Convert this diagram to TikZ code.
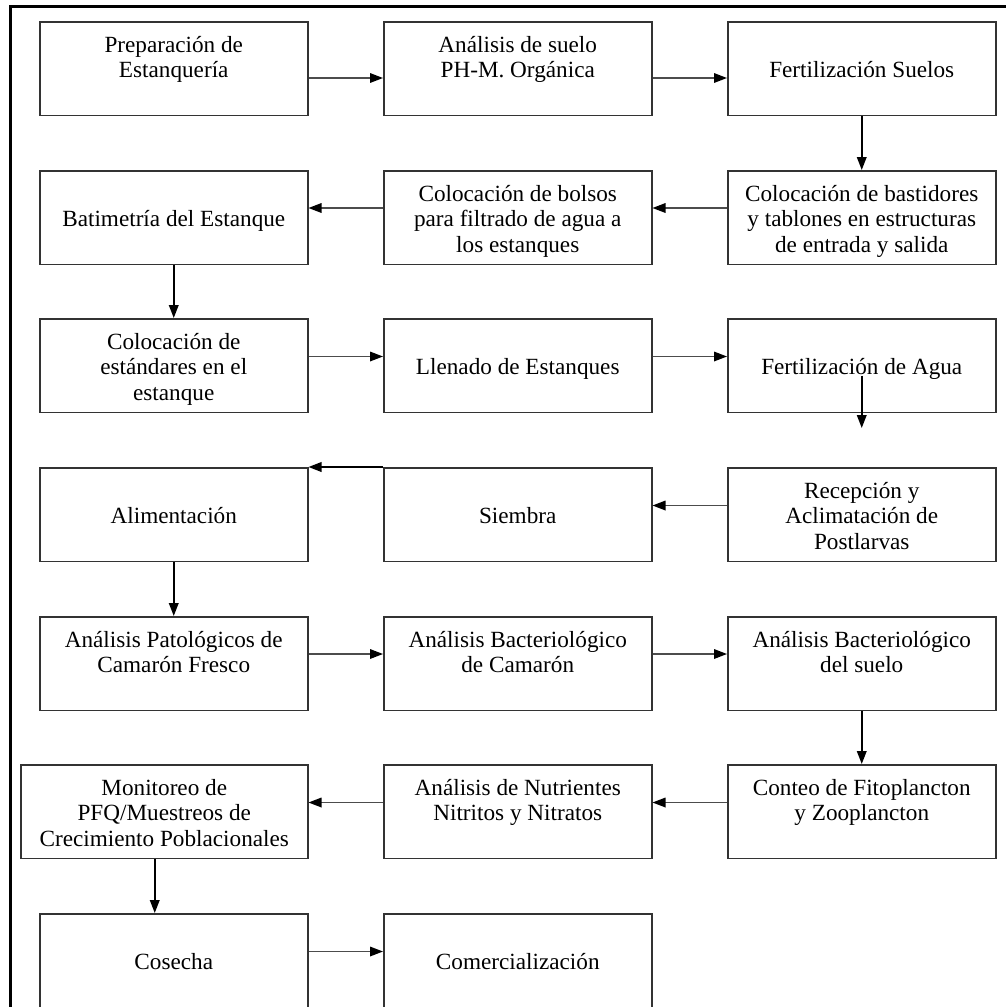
\documentclass[tikz,border=0pt]{standalone}
\usepackage{fontspec}
\setmainfont{Liberation Serif}
\usetikzlibrary{arrows.meta,calc}
\newcommand\boxcontent[3]{\parbox[c][46.75pt][t]{#1}{\centering\rule{0pt}{#2}#3}}
\newcommand\mlines[1]{\boxcontent{134pt}{15.25pt}{#1}}
\newcommand\sline[1]{\boxcontent{134pt}{28.05pt}{#1}}
\begin{document}
\begin{tikzpicture}[x=0.5pt,y=-0.5pt,
  box/.style={draw=black!80,line width=0.75pt,inner sep=0pt,anchor=north west,font=\fontsize{11.6}{12.8}\selectfont},
  arr/.style={draw=black!70,line width=0.7pt,-{Triangle[length=6.5pt,width=4.8pt,color=black]}},
  varr/.style={draw=black,line width=0.85pt,-{Triangle[length=6.5pt,width=4.8pt]}},
  frame/.style={draw=black,line width=1.35pt}]
\clip (0,0) rectangle (1006,1007);
% frame
\draw[frame] (10.3,1012) -- (10.3,6.3) -- (1012,6.3);
% row 1
\node[box] (b1) at (39,21) {\mlines{Preparación de\\Estanquería}};
\node[box] (b2) at (383,21) {\mlines{Análisis de suelo\\PH-M. Orgánica}};
\node[box] (b3) at (727,21) {\sline{Fertilización Suelos}};
% row 2
\node[box] (b4) at (727,170) {\mlines{Colocación de bastidores\\y tablones en estructuras\\de entrada y salida}};
\node[box] (b5) at (383,170) {\mlines{Colocación de bolsos\\para filtrado de agua a\\los estanques}};
\node[box] (b6) at (39,170) {\sline{Batimetría del Estanque}};
% row 3
\node[box] (b7) at (39,318) {\mlines{Colocación de\\estándares en el\\estanque}};
\node[box] (b8) at (383,318) {\sline{Llenado de Estanques}};
\node[box] (b9) at (727,318) {\sline{Fertilización de Agua}};
% row 4
\node[box] (b10) at (727,467) {\mlines{Recepción y\\Aclimatación de\\Postlarvas}};
\node[box] (b11) at (383,467) {\sline{Siembra}};
\node[box] (b12) at (39,467) {\sline{Alimentación}};
% row 5
\node[box] (b13) at (39,616) {\mlines{Análisis Patológicos de\\Camarón Fresco}};
\node[box] (b14) at (383,616) {\mlines{Análisis Bacteriológico\\de Camarón}};
\node[box] (b15) at (727,616) {\mlines{Análisis Bacteriológico\\del suelo}};
% row 6
\node[box] (b16) at (727,764) {\mlines{Conteo de Fitoplancton\\y Zooplancton}};
\node[box] (b17) at (383,764) {\mlines{Análisis de Nutrientes\\Nitritos y Nitratos}};
\node[box] (b18) at (20,764) {\boxcontent{143.5pt}{15.25pt}{Monitoreo de\\PFQ/Muestreos de\\Crecimiento Poblacionales}};
% row 7
\node[box] (b19) at (39,913) {\sline{Cosecha}};
\node[box] (b20) at (383,913) {\sline{Comercialización}};
% connectors
\draw[arr] ([yshift=-4.75pt]b1.east) -- ([yshift=-4.75pt]b2.west);
\draw[arr] ([yshift=-4.75pt]b2.east) -- ([yshift=-4.75pt]b3.west);
\draw[varr] (b3.south) -- (b4.north);
\draw[arr] ([yshift=4.75pt]b4.west) -- ([yshift=4.75pt]b5.east);
\draw[arr] ([yshift=4.75pt]b5.west) -- ([yshift=4.75pt]b6.east);
\draw[varr] (b6.south) -- (b7.north);
\draw[arr] ([yshift=4.5pt]b7.east) -- ([yshift=4.5pt]b8.west);
\draw[arr] ([yshift=4.5pt]b8.east) -- ([yshift=4.5pt]b9.west);
\coordinate (fa) at (860,428);
\draw[varr] ([yshift=-5pt]b9.center) -- (b9.center |- fa);
\draw[arr] ([yshift=4.5pt]b10.west) -- ([yshift=4.5pt]b11.east);
\draw[varr] (b11.north west) -- (b12.north east);
\draw[varr] (b12.south) -- (b13.north);
\draw[arr] ([yshift=4.75pt]b13.east) -- ([yshift=4.75pt]b14.west);
\draw[arr] ([yshift=4.75pt]b14.east) -- ([yshift=4.75pt]b15.west);
\draw[varr] (b15.south) -- (b16.north);
\draw[arr] ([yshift=4.5pt]b16.west) -- ([yshift=4.5pt]b17.east);
\draw[arr] ([yshift=4.5pt]b17.west) -- ([yshift=4.5pt]b18.east);
\draw[varr] ([xshift=-4.75pt]b18.south) -- ([xshift=-4.75pt]b18.south |- b19.north);
\draw[arr] ([yshift=4.5pt]b19.east) -- ([yshift=4.5pt]b20.west);
\end{tikzpicture}
\end{document}
